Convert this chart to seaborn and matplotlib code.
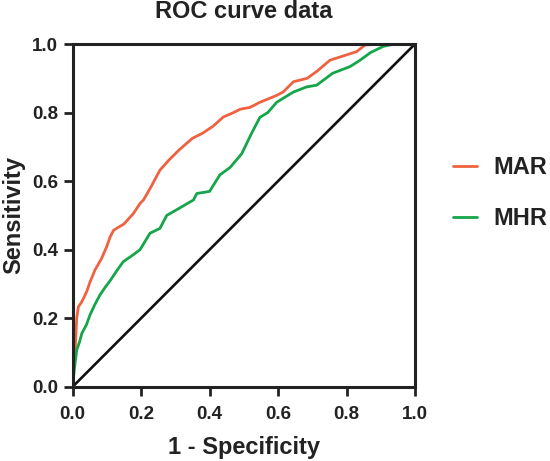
import matplotlib as mpl
mpl.use('agg')
import matplotlib.pyplot as plt
import seaborn as sns
import pandas as pd

# ROC points
mar_fpr = [0, 0.003, 0.007, 0.012, 0.017, 0.025, 0.032, 0.042, 0.051, 0.065, 0.085, 0.10,
           0.11, 0.12, 0.15, 0.178, 0.197, 0.207, 0.23, 0.255, 0.28, 0.31, 0.35, 0.38, 0.41,
           0.44, 0.47, 0.49, 0.518, 0.547, 0.596, 0.615, 0.645, 0.685, 0.713, 0.752, 0.79,
           0.83, 0.854, 0.9, 1.0]
mar_tpr = [0, 0.06, 0.097, 0.20, 0.234, 0.245, 0.258, 0.28, 0.306, 0.34, 0.375, 0.41,
           0.438, 0.457, 0.475, 0.506, 0.535, 0.545, 0.585, 0.632, 0.66, 0.69, 0.725, 0.74,
           0.76, 0.787, 0.80, 0.81, 0.815, 0.83, 0.85, 0.86, 0.89, 0.90, 0.92, 0.953, 0.965,
           0.978, 0.997, 1.0, 1.0]
mhr_fpr = [0, 0.005, 0.012, 0.02, 0.027, 0.04, 0.051, 0.065, 0.08, 0.095, 0.11, 0.13,
           0.148, 0.17, 0.197, 0.226, 0.255, 0.275, 0.31, 0.353, 0.363, 0.40, 0.43, 0.46,
           0.494, 0.523, 0.547, 0.57, 0.596, 0.645, 0.684, 0.713, 0.76, 0.81, 0.84, 0.87,
           0.907, 0.94, 1.0]
mhr_tpr = [0, 0.05, 0.107, 0.13, 0.156, 0.18, 0.21, 0.24, 0.268, 0.29, 0.31, 0.34,
           0.365, 0.38, 0.40, 0.448, 0.462, 0.50, 0.52, 0.545, 0.564, 0.57, 0.618, 0.64,
           0.68, 0.74, 0.786, 0.80, 0.83, 0.86, 0.875, 0.88, 0.915, 0.934, 0.953, 0.975,
           0.993, 1.0, 1.0]
series = ['MAR', 'MHR']
colors = {'MAR': '#EF6240', 'MHR': '#15A54A'}
ticks = [0.0, 0.2, 0.4, 0.6, 0.8, 1.0]

df = pd.concat([
    pd.DataFrame({'fpr': mar_fpr, 'tpr': mar_tpr, 'marker': 'MAR'}),
    pd.DataFrame({'fpr': mhr_fpr, 'tpr': mhr_tpr, 'marker': 'MHR'}),
])

sns.set_style('ticks')
plt.rcParams['font.family'] = ['Liberation Sans', 'DejaVu Sans']
plt.rcParams['font.weight'] = 'bold'

fig = plt.figure(figsize=(5.5, 4.61), dpi=100)
ax = fig.add_axes([0.132, 0.161, 0.6225, 0.7435])

ax.plot([0, 1], [0, 1], color='#111111', lw=1.9, zorder=1)
sns.lineplot(data=df, x='fpr', y='tpr', hue='marker', hue_order=series, palette=colors,
             estimator=None, sort=False, lw=2.0, ax=ax)

ax.set_xlim(0, 1)
ax.set_ylim(0, 1)
ax.set_xticks(ticks)
ax.set_yticks(ticks)
ax.set_xticklabels([f'{t:.1f}' for t in ticks], fontsize=13.5, fontweight='bold')
ax.set_yticklabels([f'{t:.1f}' for t in ticks], fontsize=13.5, fontweight='bold')
ax.tick_params(length=6.5, width=2, color='#222222', labelcolor='#222222')
ax.tick_params(axis='x', pad=7.5)
ax.tick_params(axis='y', pad=4)
for sp in ax.spines.values():
    sp.set_linewidth(2.2)
    sp.set_color('#222222')

ax.set_xlabel('1 - Specificity', fontsize=17, fontweight='bold', color='#222222', labelpad=9.5)
ax.set_ylabel('Sensitivity', fontsize=17, fontweight='bold', color='#222222', labelpad=5)
ax.set_title('ROC curve data', fontsize=17, fontweight='bold', color='#222222', pad=18.5)

leg = ax.legend(loc='center left', bbox_to_anchor=(1.05, 0.565), frameon=False,
                fontsize=17, handlelength=1.0, handletextpad=0.7, labelspacing=1.2)
for h in leg.get_lines():
    h.set_linewidth(2)
for t in leg.get_texts():
    t.set_fontweight('bold')
    t.set_color('#222222')

fig.savefig('out.png', dpi=100)
